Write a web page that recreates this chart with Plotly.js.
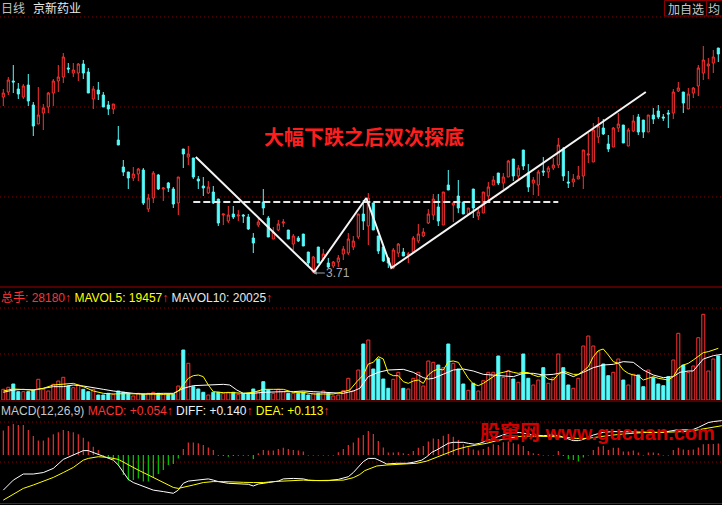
<!DOCTYPE html>
<html><head><meta charset="utf-8">
<script src="https://cdn.plot.ly/plotly-3.0.1.min.js"></script>
<style>html,body{margin:0;padding:0;background:#000;overflow:hidden}#c{width:722px;height:505px}</style>
</head><body><div id="c"></div>
<script>
// ---- price (daily candles) ----
const openP = [5.47,5.52,5.63,5.55,5.47,5.59,5.39,5.20,5.31,5.37,5.51,5.63,5.67,5.76,5.71,5.71,5.80,5.72,5.45,5.54,
5.49,5.39,5.35,5.04,4.77,4.72,4.66,4.70,4.74,4.35,4.46,4.69,4.55,4.61,4.55,4.41,4.95,4.87,4.86,4.65,
4.58,4.51,4.52,4.45,4.29,4.23,4.30,4.28,4.29,4.27,4.06,4.19,4.42,4.26,4.05,4.14,4.21,4.14,4.00,4.06,
4.10,3.92,3.72,3.97,3.85,3.81,3.78,3.82,3.90,3.91,3.97,4.07,4.30,4.18,4.41,4.08,3.97,3.86,3.76,3.91,
3.92,3.89,3.92,4.03,4.08,4.21,4.29,4.37,4.19,4.59,4.39,4.48,4.42,4.30,4.55,4.28,4.31,4.48,4.59,4.71,
4.61,4.67,4.85,4.68,4.94,4.71,4.61,4.59,4.73,4.72,4.76,4.79,4.95,4.62,4.62,4.65,4.68,4.89,4.82,5.07,
5.16,5.00,4.97,5.16,5.19,4.98,5.13,5.27,5.24,5.12,5.29,5.33,5.27,5.31,5.31,5.53,5.52,5.35,5.51,5.58,
5.71,5.78,5.81,5.96];
const highP = [5.55,5.67,5.79,5.61,5.60,5.70,5.42,5.57,5.40,5.52,5.65,5.79,5.91,5.81,5.81,5.81,5.84,5.76,5.58,5.62,
5.52,5.43,5.40,5.18,4.84,4.72,4.77,4.76,4.76,4.50,4.73,4.70,4.57,4.62,4.57,4.67,4.95,4.98,4.86,4.68,
4.67,4.63,4.58,4.45,4.30,4.38,4.38,4.34,4.30,4.30,4.11,4.26,4.55,4.28,4.17,4.24,4.25,4.14,4.10,4.08,
4.10,3.92,3.88,3.97,3.95,3.86,3.83,3.89,3.98,4.11,4.08,4.30,4.44,4.51,4.41,4.08,3.99,3.87,3.96,4.01,
3.96,3.92,4.08,4.20,4.16,4.35,4.50,4.50,4.52,4.74,4.42,4.64,4.42,4.36,4.55,4.36,4.52,4.62,4.68,4.71,
4.71,4.84,4.85,4.79,4.94,4.80,4.67,4.74,4.87,4.78,4.86,5.06,4.97,4.73,4.70,4.78,4.94,5.11,5.21,5.27,
5.25,5.09,5.17,5.31,5.19,5.16,5.29,5.30,5.24,5.29,5.36,5.39,5.30,5.34,5.55,5.62,5.52,5.56,5.57,5.79,
5.98,5.86,5.94,5.96];
const lowP = [5.38,5.49,5.51,5.45,5.45,5.38,5.08,5.20,5.14,5.31,5.38,5.52,5.61,5.71,5.67,5.63,5.65,5.51,5.35,5.44,
5.37,5.29,5.30,4.99,4.68,4.55,4.63,4.63,4.39,4.32,4.41,4.54,4.43,4.52,4.36,4.29,4.76,4.79,4.65,4.55,
4.48,4.50,4.40,4.18,4.19,4.21,4.25,4.23,4.21,4.14,3.91,4.17,4.29,4.07,4.05,4.13,4.17,4.05,3.94,4.02,
3.98,3.77,3.71,3.81,3.83,3.76,3.76,3.77,3.84,3.89,3.94,4.05,4.14,3.99,4.14,3.90,3.82,3.76,3.75,3.87,
3.88,3.81,3.91,4.01,4.07,4.20,4.24,4.18,4.19,4.54,4.22,4.31,4.30,4.29,4.26,4.24,4.31,4.42,4.59,4.59,
4.55,4.67,4.63,4.64,4.74,4.52,4.49,4.48,4.68,4.66,4.74,4.76,4.63,4.56,4.57,4.65,4.55,4.81,4.82,5.01,
5.09,4.92,4.97,5.12,5.01,4.98,5.12,5.09,5.06,5.12,5.20,5.25,5.23,5.16,5.25,5.52,5.31,5.35,5.46,5.48,
5.64,5.65,5.71,5.82];
const closeP = [5.51,5.64,5.62,5.50,5.58,5.43,5.18,5.29,5.36,5.51,5.63,5.67,5.87,5.75,5.74,5.80,5.71,5.51,5.55,5.50,
5.37,5.35,5.40,4.99,4.72,4.66,4.70,4.75,4.41,4.46,4.71,4.55,4.56,4.56,4.40,4.67,4.90,4.90,4.67,4.63,
4.56,4.57,4.41,4.21,4.30,4.29,4.27,4.29,4.28,4.15,4.01,4.22,4.36,4.07,4.12,4.20,4.22,4.05,4.08,4.03,
3.98,3.81,3.87,3.81,3.90,3.77,3.82,3.86,3.95,4.05,4.03,4.30,4.23,4.46,4.14,3.93,3.83,3.81,3.94,4.00,
3.88,3.90,4.06,4.10,4.12,4.30,4.45,4.23,4.52,4.54,4.41,4.36,4.30,4.36,4.36,4.32,4.52,4.57,4.64,4.61,
4.67,4.83,4.68,4.76,4.78,4.57,4.64,4.72,4.72,4.76,4.79,4.99,4.68,4.61,4.65,4.68,4.94,4.90,5.14,5.18,
5.10,4.95,5.16,5.20,5.01,5.14,5.23,5.12,5.12,5.29,5.25,5.27,5.26,5.30,5.52,5.56,5.41,5.50,5.56,5.76,
5.84,5.80,5.87,5.90];

// ---- volume (手) ----
const volume = [6850,8130,10240,5310,5310,5310,6400,13250,6850,5760,10050,12160,14530,8960,7870,9600,6850,5310,6850,3200,
3200,4290,3650,5760,4930,4290,2560,4290,3840,4290,4930,4290,3650,3650,3650,8960,32000,23490,8510,7040,
4930,3200,4930,4930,4290,4930,4930,3650,4290,4290,7040,5310,11710,6400,4290,6850,5310,4290,4290,4290,
4930,3200,4290,4290,5760,4290,2560,3200,5950,13890,5760,19200,35840,38400,19840,26240,13440,7490,13250,17730,
7490,7040,13890,17730,8960,24960,24130,22400,20670,35840,23490,19840,10240,6210,10690,5760,12350,17730,17730,28160,
14530,18750,13440,11330,29440,13890,9600,12800,20670,10690,14270,29440,20670,9600,7490,13890,34560,40960,34560,30910,
23040,15550,17730,26240,12800,9600,16450,16000,8510,19200,14270,10240,9150,14910,25600,42690,22400,17730,21760,39870,
54850,18560,26240,28180];
const ma5X = [0,2,6,8,10,12,14,16,18,20,22,24,26,28,30,32,34,35,36,37,38,39,40,41,42,44,46,48,50,52,54,56,58,60,62,64,66,68,69.3,70.7,
72,73,74,75,76,77,78,79,80,81,82,83,84,85,86,87,88,89,90,91,92,93,94,95,96,97,98,99,100,101,102,103,104,105,106,107,108,109,110,111,
112,113,114,115,116,117,118,119,120,121,122,123,124,125,126,127,128,129,130,131,132,133,134,135,136,137,138,139,140,141,142,143];
const mavol5 = [5760,7040,6400,7470,9600,10240,10670,8530,5760,4270,3840,4050,3840,3630,3840,3630,3840,5760,9600,13870,15570,16000,14930,9600,5330,4690,4690,4270,4910,6830,6830,6830,4910,4910,3840,3840,3840,5330,6400,11730,
16000,23040,24100,27730,26240,17070,15570,15570,11730,10670,12160,12800,10670,16000,18560,19840,19200,24530,24960,24100,19200,13870,10240,9170,10670,12800,14930,17070,17700,18560,17700,17070,17700,17490,16000,14930,16000,13440,12800,16430,
18560,17700,16430,16430,18560,21330,27730,31570,32640,28800,24530,23460,19200,17070,16000,15570,12800,13870,14930,13870,13230,12800,14930,20270,22400,23460,25600,27730,30290,30930,32000,33070];
const ma10X = [0,2,4,6,8,10,12,14,16,18,20,22,24,26,28,30,32,34,36,38,40,42,44,45.3,46.7,48,50,52,54,56,58,60,62,64,66,68,70,71.3,72,73,
75,77,80,82,84,85,86,88,89,90,92,94,96,98,100,102,104,106,108,110,112,114,116,118,120,122,124,126,128,130,132,134,135.3,137,138,140,142,143.7];
const mavol10 = [4910,6400,6830,6400,7470,8530,8530,9600,8960,8110,6830,5760,4910,4270,3840,4270,4270,4270,7470,9170,9600,9600,10030,9600,6400,4270,4270,4910,5330,5330,5330,5760,5330,4910,4270,4270,5760,7470,10670,14930,
17700,19200,19630,17700,14290,13440,13870,16430,17700,19200,19840,18560,16430,16000,15570,14930,17070,17070,16000,16430,17700,14930,17700,20690,22400,22830,24530,24100,19200,16000,14290,14930,17700,18560,18560,26240,28370,29230];

// ---- MACD(12,26,9) ----
const macdHist = [0.100,0.119,0.127,0.123,0.123,0.103,0.078,0.059,0.059,0.072,0.085,0.093,0.103,0.098,0.093,0.085,0.071,0.055,0.034,0.021,
-0.003,-0.010,-0.018,-0.041,-0.082,-0.105,-0.103,-0.096,-0.109,-0.109,-0.092,-0.078,-0.062,-0.041,-0.037,-0.014,0.025,0.051,0.051,0.048,
0.041,0.031,0.021,-0.003,-0.004,-0.007,-0.004,-0.003,-0.003,-0.003,-0.016,0.007,0.021,0.018,0.018,0.025,0.030,0.025,0.021,0.018,
0.014,-0.002,-0.002,-0.002,-0.002,-0.002,-0.002,0.011,0.025,0.041,0.051,0.071,0.082,0.098,0.086,0.057,0.031,0.010,0.010,0.011,
0.007,0.004,0.016,0.030,0.037,0.055,0.068,0.066,0.079,0.086,0.075,0.062,0.044,0.031,0.023,0.018,0.025,0.034,0.044,0.041,
0.052,0.055,0.048,0.044,0.037,0.016,0.007,0.004,-0.002,-0.002,-0.002,0.016,-0.004,-0.016,-0.021,-0.027,-0.010,-0.002,0.021,0.034,
0.038,0.021,0.030,0.030,0.014,0.014,0.018,0.010,-0.002,0.010,0.010,0.007,-0.002,-0.002,0.021,0.030,0.023,0.021,0.023,0.031,
0.044,0.045,0.045,0.047];
const diffX = [0,2,4,6,8,10,12,14,16,17,18,19,20,22,23,24,25,26,28,30,32,34,35,36,37,39,41,42,43,45,47.3,49,50,51,53,55,56,58,60,61,
63,65,67,69,70,71.3,72,73,74.3,75.3,76.7,78.7,80.7,82,83.7,84.7,85.7,86.7,88,89,90,92,93,94.3,95.3,96.3,97.3,98.3,99.3,100.3,
101.3,103.3,104.7,106,108,109.7,111.3,113,114,115,116,118,120,122,126,128,130,131.7,133,134.7,137,138,139,140,141,142,143.7];
const diff = [-0.144,-0.103,-0.078,-0.078,-0.072,-0.055,-0.018,0,0.018,0.018,0.010,0.004,-0.004,-0.021,-0.041,-0.068,-0.100,-0.113,-0.127,-0.144,
-0.150,-0.157,-0.144,-0.116,-0.107,-0.103,-0.098,-0.103,-0.109,-0.116,-0.119,-0.120,-0.127,-0.119,-0.113,-0.107,-0.098,-0.096,-0.098,-0.103,
-0.105,-0.105,-0.100,-0.089,-0.072,-0.045,-0.027,-0.014,-0.014,-0.023,-0.037,-0.034,-0.034,-0.030,-0.021,-0.007,0.011,0.021,0.037,0.048,
0.052,0.052,0.048,0.044,0.048,0.055,0.064,0.072,0.078,0.086,0.092,0.092,0.086,0.082,0.079,0.082,0.078,0.068,0.059,0.059,
0.064,0.082,0.093,0.096,0.096,0.096,0.093,0.092,0.096,0.103,0.103,0.105,0.113,0.123,0.133,0.137,0.141];
const deaX = [0,2,4,6,8,10,12,14,16,17,19,21,23,25,27,29,31,33,34,35,36,38,40,42,44,46,48,50,52,54,56,58,60,62,64,66,68,70,71.3,72.3,
73.3,74.7,76.7,78.7,80.7,82.7,84.7,86.7,88.7,90.7,92.7,94.7,96.7,98.7,100.7,102.7,104.7,108.7,110.7,112.7,114.7,116.7,118,120,122,124,126,128,132,134,
136,138,140,142,143.7];
const dea = [-0.185,-0.161,-0.137,-0.123,-0.109,-0.092,-0.072,-0.051,-0.021,-0.014,-0.007,-0.010,-0.018,-0.041,-0.062,-0.082,-0.103,-0.123,-0.133,-0.137,
-0.133,-0.123,-0.113,-0.109,-0.109,-0.112,-0.112,-0.113,-0.113,-0.109,-0.107,-0.103,-0.103,-0.105,-0.105,-0.105,-0.103,-0.093,-0.080,-0.064,
-0.055,-0.045,-0.041,-0.038,-0.037,-0.034,-0.025,-0.010,0.007,0.023,0.034,0.041,0.048,0.059,0.068,0.075,0.078,0.078,0.075,0.072,
0.068,0.068,0.072,0.078,0.082,0.086,0.089,0.092,0.093,0.093,0.096,0.100,0.107,0.116,0.120];

// ---- drawn pattern lines (bar index, price) ----
const wX = [38.5,62.2,72.6,77.6,128.5];
const wY = [4.87,3.72,4.46,3.76,5.52];
const neckX = [38,111];
const neckY = [4.42,4.42];
const lowIdx = 62, lowLabel = '3.71';

// ---- text ----
const stockName = '京新药业', period = '日线';
const annTitle = '大幅下跌之后双次探底';
const volLabel = {total:'28180', ma5:'19457', ma10:'20025'};
const macdLabel = {macd:'+0.054', diff:'+0.140', dea:'+0.113'};
const watermark = '股窜网 www.gucuan.com';

const RED = '#ff3232', CYAN = '#54fcfc', YEL = '#ffff00', WHT = '#ffffff', GRN = '#00e000';
const H = 505, W = 722;
const py = p => 1 - p / H;
const px = p => p / W;
const idx = openP.map((_, i) => i);
const up = idx.map(i => closeP[i] >= openP[i]);

const traces = [
  {type:'candlestick', x:idx, open:openP, high:highP, low:lowP, close:closeP, xaxis:'x', yaxis:'y',
   increasing:{line:{color:RED,width:1}, fillcolor:'#000000'},
   decreasing:{line:{color:CYAN,width:1}, fillcolor:CYAN},
   whiskerwidth:0, hoverinfo:'skip'},
  {type:'scatter', mode:'lines', x:neckX, y:neckY, yaxis:'y', line:{color:'#e8e8e8', width:2, dash:'7px,3px'}, hoverinfo:'skip'},
  {type:'scatter', mode:'lines', x:wX, y:wY, yaxis:'y', line:{color:'#f4f4f4', width:2}, hoverinfo:'skip'},
  {type:'bar', x:idx, y:volume, yaxis:'y2', width:0.6,
   marker:{color:up.map(u => u ? '#000000' : CYAN), line:{color:up.map(u => u ? RED : CYAN), width:1}}, hoverinfo:'skip'},
  {type:'scatter', mode:'lines', x:ma10X, y:mavol10, yaxis:'y2', line:{color:WHT, width:1}, hoverinfo:'skip'},
  {type:'scatter', mode:'lines', x:ma5X, y:mavol5, yaxis:'y2', line:{color:YEL, width:1}, hoverinfo:'skip'},
  {type:'bar', x:idx, y:macdHist, yaxis:'y3', width:0.22,
   marker:{color:macdHist.map(v => v >= 0 ? RED : GRN), line:{width:0}}, hoverinfo:'skip'},
  {type:'scatter', mode:'lines', x:diffX, y:diff, yaxis:'y3', line:{color:WHT, width:1}, hoverinfo:'skip'},
  {type:'scatter', mode:'lines', x:deaX, y:dea, yaxis:'y3', line:{color:YEL, width:1}, hoverinfo:'skip'}
];

const hidden = {showgrid:false, zeroline:false, showticklabels:false, ticks:'', showline:false, fixedrange:true};
const dotted = pix => ({type:'line', xref:'paper', yref:'paper', x0:0, x1:1, y0:py(pix), y1:py(pix), layer:'below',
  line:{color:'#8c0000', width:1, dash:'1px,3px'}});
const solid = pix => ({type:'line', xref:'paper', yref:'paper', x0:0, x1:1, y0:py(pix), y1:py(pix), layer:'below',
  line:{color:'#a00000', width:1}});

const FONT = 'Liberation Sans, Arial, Noto Sans CJK SC, sans-serif';
const CJK = 'Noto Sans CJK SC, sans-serif';
const sp = (c, t) => `<span style="color:${c}">${t}</span>`;

const layout = {
  width:W, height:H, margin:{l:0,r:0,t:0,b:0}, paper_bgcolor:'#000000', plot_bgcolor:'rgba(0,0,0,0)',
  showlegend:false, hovermode:false, barmode:'overlay', boxgap:0.4,
  xaxis:Object.assign({range:[-0.66,143.74], anchor:'y3', rangeslider:{visible:false}}, hidden),
  yaxis:Object.assign({domain:[py(287), py(16)], range:[3.57,6.28], anchor:'x'}, hidden),
  yaxis2:Object.assign({domain:[py(400), py(287)], range:[0,72320], anchor:'x'}, hidden),
  yaxis3:Object.assign({domain:[py(503), py(401)], range:[-0.1968,0.2214], anchor:'x'}, hidden),
  shapes:[dotted(17), dotted(107), dotted(197), dotted(308), dotted(354), dotted(422), dotted(462),
    solid(287), solid(401), solid(503.5),
    {type:'rect', xref:'paper', yref:'paper', x0:px(664.5), x1:px(706.5), y0:py(16), y1:py(0.5), line:{color:'#8b0000', width:1}},
    {type:'rect', xref:'paper', yref:'paper', x0:px(706.5), x1:px(740), y0:py(16), y1:py(0.5), line:{color:'#8b0000', width:1}}
  ],
  annotations:[
    {xref:'paper', yref:'paper', x:px(-1), y:py(7.5), xanchor:'left', yanchor:'middle', showarrow:false,
     text:period, font:{family:CJK, size:12, color:'#c0c0c0'}},
    {xref:'paper', yref:'paper', x:px(31), y:py(7.5), xanchor:'left', yanchor:'middle', showarrow:false,
     text:stockName, font:{family:CJK, size:12, color:'#e8e8e8'}},
    {xref:'paper', yref:'paper', x:px(685.5), y:py(8), xanchor:'center', yanchor:'middle', showarrow:false,
     text:'加自选', font:{family:CJK, size:12, color:'#c8c8c8'}},
    {xref:'paper', yref:'paper', x:px(706), y:py(8), xanchor:'left', yanchor:'middle', showarrow:false,
     text:'均', font:{family:CJK, size:12, color:'#c8c8c8'}},
    {xref:'paper', yref:'paper', x:px(364), y:py(136), xanchor:'center', yanchor:'middle', showarrow:false,
     text:'<b>'+annTitle+'</b>', font:{family:CJK, size:20, color:'#ff1e1e'}},
    {xref:'x', yref:'y', x:lowIdx, y:lowP[lowIdx], ax:25, ay:0, showarrow:true, arrowhead:2, arrowsize:0.7, arrowwidth:1,
     arrowcolor:'#a0a0a8', text:lowLabel, font:{family:FONT, size:12, color:'#a8a8b4'}},
    {xref:'paper', yref:'paper', x:px(-1), y:py(297.5), xanchor:'left', yanchor:'middle', showarrow:false,
     font:{family:FONT, size:12, color:RED},
     text: sp(RED,'总手: '+volLabel.total)+sp(RED,'↑')+' '+sp(YEL,'MAVOL5: '+volLabel.ma5)+sp(RED,'↑')+' '+sp('#e8e8e8','MAVOL10: '+volLabel.ma10)+sp(RED,'↑')},
    {xref:'paper', yref:'paper', x:px(-1), y:py(411), xanchor:'left', yanchor:'middle', showarrow:false,
     font:{family:FONT, size:12, color:'#c8c8c8'},
     text: sp('#c8c8c8','MACD(12,26,9)')+' '+sp(RED,'MACD: '+macdLabel.macd)+sp(RED,'↑')+' '+sp('#f0f0f0','DIFF: '+macdLabel.diff)+sp(RED,'↑')+' '+sp(YEL,'DEA: '+macdLabel.dea)+sp(RED,'↑')},
    {xref:'paper', yref:'paper', x:px(597), y:py(433), xanchor:'center', yanchor:'middle', showarrow:false,
     text:'<b>'+watermark+'</b>', font:{family:'Liberation Sans, Arial, Noto Sans CJK SC', size:20, color:'#d20000'}}
  ]
};

Plotly.newPlot('c', traces, layout, {staticPlot:true, displayModeBar:false});
</script>
</body></html>
